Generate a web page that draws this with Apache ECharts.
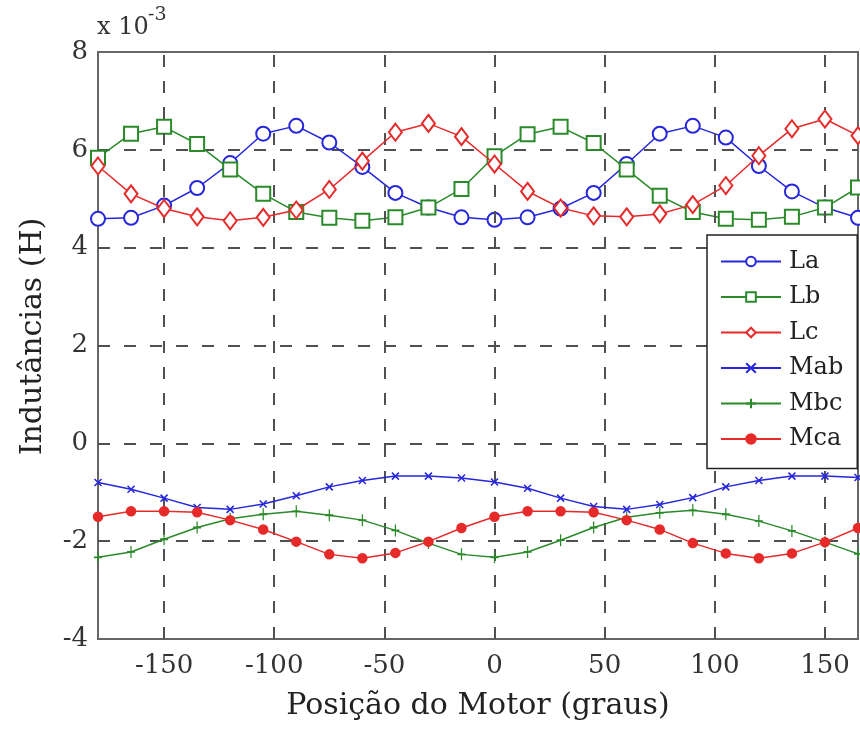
<!DOCTYPE html>
<html>
<head>
<meta charset="utf-8">
<script src="https://cdn.jsdelivr.net/npm/echarts@6/dist/echarts.min.js"></script>
<style>
html,body{margin:0;padding:0;background:#fff;}
#chart{width:860px;height:733px;}
</style>
</head>
<body>
<div id="chart"></div>
<script>
const angles = [-180,-165,-150,-135,-120,-105,-90,-75,-60,-45,-30,-15,0,15,30,45,60,75,90,105,120,135,150,165];
const xTicks = [-150,-100,-50,0,50,100,150];
const La  = [4.59,4.61,4.86,5.22,5.73,6.33,6.49,6.15,5.65,5.12,4.82,4.62,4.57,4.62,4.80,5.12,5.71,6.33,6.49,6.25,5.67,5.15,4.82,4.61];
const Lb  = [5.84,6.33,6.47,6.12,5.60,5.10,4.73,4.61,4.55,4.62,4.82,5.20,5.87,6.32,6.47,6.14,5.60,5.06,4.73,4.59,4.57,4.63,4.82,5.23];
const Lc  = [5.67,5.10,4.80,4.63,4.55,4.62,4.77,5.19,5.77,6.36,6.54,6.27,5.71,5.15,4.81,4.65,4.63,4.69,4.88,5.27,5.88,6.43,6.63,6.29];
const Mab = [-0.80,-0.94,-1.12,-1.31,-1.35,-1.24,-1.07,-0.89,-0.76,-0.67,-0.67,-0.71,-0.79,-0.92,-1.12,-1.29,-1.35,-1.25,-1.11,-0.89,-0.76,-0.67,-0.67,-0.70];
const Mbc = [-2.33,-2.22,-1.96,-1.72,-1.54,-1.45,-1.39,-1.47,-1.57,-1.78,-2.04,-2.27,-2.33,-2.22,-1.98,-1.72,-1.51,-1.42,-1.37,-1.45,-1.59,-1.79,-2.02,-2.26];
const Mca = [-1.50,-1.39,-1.39,-1.41,-1.57,-1.76,-2.01,-2.27,-2.35,-2.24,-2.01,-1.73,-1.50,-1.39,-1.39,-1.41,-1.57,-1.76,-2.04,-2.25,-2.35,-2.25,-2.02,-1.73];
const seriesNames = ['La','Lb','Lc','Mab','Mbc','Mca'];
const seriesData = [La,Lb,Lc,Mab,Mbc,Mca];

const BLUE = '#2626dc', GREEN = '#2a8a2a', RED = '#e62a2a';
const GRID = '#505050';
const DASH = [12, 14];
const styles = [
  {color: BLUE,  symbol: 'emptyCircle',  size: 14},
  {color: GREEN, symbol: 'emptyRect',    size: 14},
  {color: RED,   symbol: 'emptyDiamond', size: [13,17]},
  {color: BLUE,  symbol: 'path://M0,0L10,10M10,0L0,10', size: 7},
  {color: GREEN, symbol: 'path://M5,0L5,10M0,5L10,5', size: [8,12]},
  {color: RED,   symbol: 'circle', size: 9}
];
const FONT = 'DejaVu Serif';

const chart = echarts.init(document.getElementById('chart'), null, {renderer: 'canvas'});
const series = seriesNames.map((n, i) => ({
  name: n,
  type: 'line',
  data: angles.map((a, j) => [a, seriesData[i][j]]),
  symbol: styles[i].symbol,
  symbolSize: styles[i].size,
  showAllSymbol: true,
  lineStyle: {color: styles[i].color, width: 1.5},
  itemStyle: {color: styles[i].color, borderColor: styles[i].color, borderWidth: 1.5},
  emphasis: {disabled: true},
  animation: false,
  z: 3 + i
}));

// vertical dashed grid lines at the x tick values
series.unshift({
  name: '_vgrid',
  type: 'line',
  data: [],
  z: 1,
  silent: true,
  animation: false,
  markLine: {
    silent: true,
    symbol: ['none', 'none'],
    label: {show: false},
    animation: false,
    lineStyle: {color: GRID, width: 2, type: DASH},
    emphasis: {disabled: true},
    data: xTicks.map(v => ({xAxis: v}))
  }
});

chart.setOption({
  animation: false,
  backgroundColor: '#fff',
  textStyle: {fontFamily: FONT},
  grid: {left: 98, top: 52, right: 2, bottom: 94, show: true, borderColor: '#666', borderWidth: 2, backgroundColor: 'transparent'},
  xAxis: {
    type: 'value', min: -180, max: 165,
    name: 'Posição do Motor (graus)', nameLocation: 'middle', nameGap: 52,
    nameTextStyle: {fontFamily: FONT, fontSize: 30, color: '#222'},
    axisLine: {show: false},
    axisTick: {show: false, customValues: xTicks},
    axisLabel: {customValues: xTicks, fontFamily: FONT, fontSize: 26, color: '#333', margin: 14},
    splitLine: {show: false}
  },
  yAxis: {
    type: 'value', min: -4, max: 8, interval: 2,
    name: 'Indutâncias (H)', nameLocation: 'middle', nameGap: 50, nameRotate: 90,
    nameTextStyle: {fontFamily: FONT, fontSize: 30, color: '#222', padding: [0, 0, 0, 18]},
    axisLine: {show: false},
    axisTick: {show: false},
    axisLabel: {fontFamily: FONT, fontSize: 26, color: '#333', margin: 10},
    splitLine: {show: true, showMinLine: false, showMaxLine: false, lineStyle: {color: GRID, width: 2, type: DASH}}
  },
  legend: {
    orient: 'vertical', left: 707, top: 235,
    data: seriesNames,
    itemWidth: 60, itemHeight: 12, itemGap: 10.5,
    padding: [14, 14, 17, 13],
    backgroundColor: '#fff', borderColor: '#222', borderWidth: 1.5, borderRadius: 0,
    textStyle: {fontFamily: FONT, fontSize: 24, color: '#222', lineHeight: 25, padding: [0,0,0,3]},
    selectedMode: false,
    z: 20
  },
  graphic: [
    {type: 'text', left: 97, top: 16, style: {text: 'x 10', fontFamily: FONT, fontSize: 24, fill: '#333'}},
    {type: 'text', left: 148, top: 6, style: {text: '-3', fontFamily: FONT, fontSize: 19, fill: '#333'}}
  ],
  series: series
});
</script>
</body>
</html>
